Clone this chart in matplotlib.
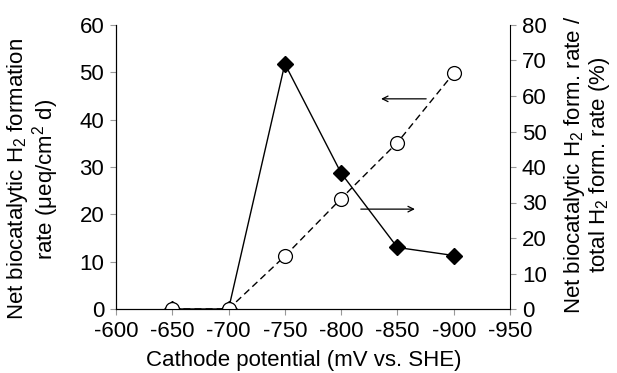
import matplotlib
matplotlib.use("Agg")
import matplotlib.pyplot as plt

plt.rcParams['font.family'] = ['Liberation Sans', 'DejaVu Sans']
plt.rcParams['mathtext.fontset'] = 'custom'
plt.rcParams['mathtext.rm'] = 'Liberation Sans'
plt.rcParams['mathtext.it'] = 'Liberation Sans'
plt.rcParams['axes.unicode_minus'] = False

potential = [-650, -700, -750, -800, -850, -900]
rate = [0, 0, 51.8, 28.7, 13.0, 11.3]
percent = [0, 0, 14.9, 31.1, 46.9, 66.4]
x_ticks = [-600, -650, -700, -750, -800, -850, -900, -950]
left_ticks = [0, 10, 20, 30, 40, 50, 60]
right_ticks = [0, 10, 20, 30, 40, 50, 60, 70, 80]

fs = 16
fig = plt.figure(figsize=(6.17, 3.73), dpi=100)
ax = fig.add_axes([116/617, 1-309/373, (510-116)/617, (309-25)/373])
ax2 = ax.twinx()

ax.plot(potential, rate, color='black', lw=1.0, marker='D', ms=8, mfc='black', mec='black')
ax2.plot(potential, percent, color='black', lw=1.0, ls=(0, (5, 3)), marker='o', ms=10,
         mfc='white', mec='black', mew=0.9)

ax.set_xlim(-600, -950)
ax.set_ylim(0, 60)
ax2.set_ylim(0, 80)
ax.set_xticks(x_ticks)
ax.set_yticks(left_ticks)
ax2.set_yticks(right_ticks)

for a in (ax, ax2):
    a.spines['top'].set_visible(False)
    a.tick_params(labelsize=fs, direction='out', length=4.5, width=0.8, color='#999999', pad=4)
ax.spines['right'].set_visible(False)

ax.set_xlabel('Cathode potential (mV vs. SHE)', fontsize=fs)
ax.xaxis.set_label_coords(0.476, -0.183)
ax.xaxis.label.set_va('center')
ax.set_ylabel('Net biocatalytic H$_2$ formation\nrate (\u03bceq/cm$^{2}$ d)', fontsize=fs, linespacing=1.0)
ax.yaxis.set_label_coords(-0.21, 0.458)
ax.yaxis.label.set_va('center')
ax2.set_ylabel('Net biocatalytic H$_2$ form. rate /\ntotal H$_2$ form. rate (%)', fontsize=fs, linespacing=1.0)
ax2.yaxis.set_label_coords(1.195, 0.507)
ax2.yaxis.label.set_va('center')

ax.annotate('', xy=(-833, 44.4), xytext=(-878, 44.4),
            arrowprops=dict(arrowstyle='->', color='black', lw=0.9))
ax.annotate('', xy=(-868, 21.1), xytext=(-815, 21.1),
            arrowprops=dict(arrowstyle='->', color='black', lw=0.9))

fig.savefig('out.png', dpi=100)
